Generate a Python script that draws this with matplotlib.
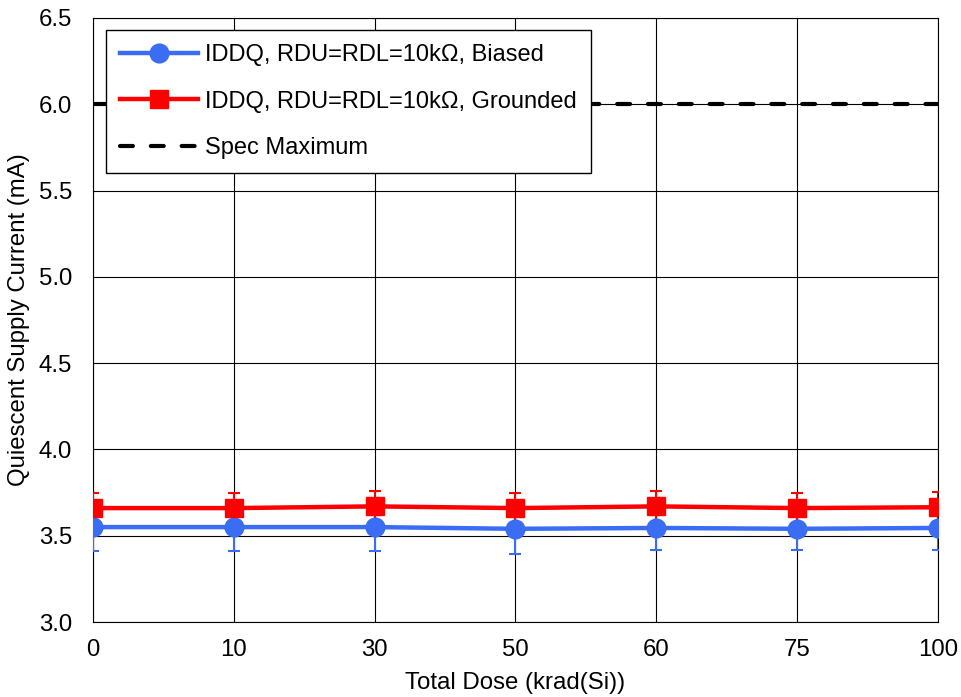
import matplotlib
matplotlib.use("Agg")
import matplotlib.pyplot as plt

plt.rcParams["font.family"] = ["Liberation Sans", "DejaVu Sans"]

doses = ["0", "10", "30", "50", "60", "75", "100"]
biased = [3.55, 3.55, 3.55, 3.54, 3.545, 3.54, 3.545]
biased_err = [0.14, 0.14, 0.14, 0.145, 0.125, 0.125, 0.125]
grounded = [3.66, 3.66, 3.67, 3.66, 3.67, 3.66, 3.665]
grounded_err = [0.09, 0.09, 0.09, 0.09, 0.09, 0.09, 0.09]
spec_max = [6.0] * len(doses)
yticks = [3.0, 3.5, 4.0, 4.5, 5.0, 5.5, 6.0, 6.5]

blue = "#3a6cf4"
red = "#ff0000"
fs = 17.3

fig = plt.figure(figsize=(9.62, 6.97), dpi=100)
ax = fig.add_axes([0.0967, 0.1076, 0.8783, 0.8666])
x = list(range(len(doses)))

# error bars first so markers sit on top of them
ax.errorbar(x, biased, yerr=biased_err, fmt="none", ecolor=blue,
            elinewidth=1.5, capsize=4.5, capthick=1.5, zorder=3)
ax.errorbar(x, grounded, yerr=grounded_err, fmt="none", ecolor=red,
            elinewidth=1.5, capsize=4.5, capthick=1.5, zorder=3)
ax.plot(x, biased, color=blue, lw=3.2, marker="o", ms=13.5,
        label="IDDQ, RDU=RDL=10kΩ, Biased", zorder=4)
ax.plot(x, grounded, color=red, lw=3.2, marker="s", ms=12.5,
        label="IDDQ, RDU=RDL=10kΩ, Grounded", zorder=5)
ax.plot(x, spec_max, color="black", lw=3, ls=(0, (3.1, 4.3)),
        dash_capstyle="round", label="Spec Maximum", zorder=2)

ax.set_xlim(0, len(doses) - 1)
ax.set_ylim(3.0, 6.5)
ax.set_xticks(x)
ax.set_xticklabels(doses)
ax.set_yticks(yticks)
ax.set_yticklabels([f"{v:.1f}" for v in yticks])
ax.tick_params(axis="both", labelsize=fs, length=0)
ax.tick_params(axis="y", pad=15)
ax.tick_params(axis="x", pad=12)
ax.grid(True, color="black", lw=0.8)
ax.set_axisbelow(True)
for s in ax.spines.values():
    s.set_color("black")
    s.set_linewidth(0.8)

ax.set_xlabel("Total Dose (krad(Si))", fontsize=fs, labelpad=8)
ax.set_ylabel("Quiescent Supply Current (mA)", fontsize=fs, labelpad=6)

leg = ax.legend(loc="upper left", bbox_to_anchor=(0.0154, 0.980), fontsize=17,
                handlelength=3.3, handletextpad=0.3, labelspacing=1.03,
                borderpad=0.6, borderaxespad=0, fancybox=False, framealpha=1,
                edgecolor="black")
leg.get_frame().set_linewidth(1.0)
leg.set_zorder(10)

fig.savefig("out.png", dpi=100)
